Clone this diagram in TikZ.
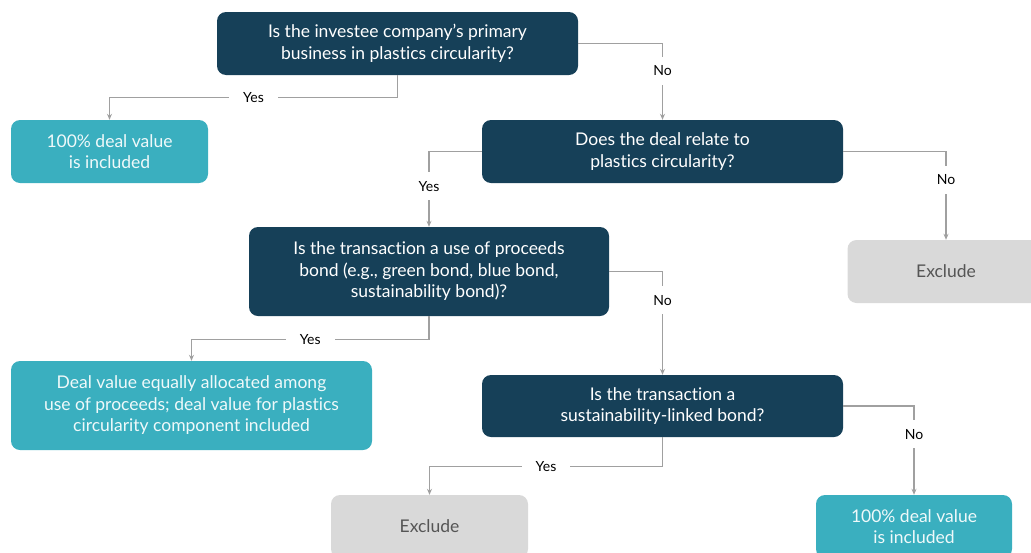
\documentclass[tikz,border=0pt]{standalone}
\usepackage{fontspec}
\setmainfont{Lato}[Ligatures={NoCommon,NoRare}]
\usetikzlibrary{arrows.meta}
\definecolor{navy}{RGB}{22,64,88}
\definecolor{teal}{RGB}{58,175,191}
\definecolor{lgrey}{RGB}{217,217,217}
\definecolor{dgrey}{RGB}{85,85,85}
\definecolor{wire}{RGB}{160,160,160}
\begin{document}
\begin{tikzpicture}[x=1pt,y=-1pt,
    box/.style={rounded corners=9pt,inner sep=0pt,align=center,
      font=\fontsize{17.5}{21.5}\selectfont},
    ask/.style={box,fill=navy,text=white,minimum width=361pt},
    take/.style={box,fill=teal,text=white!92!teal},
    drop/.style={box,fill=lgrey,text=dgrey,minimum width=197pt,minimum height=63pt},
    wire/.style={draw=wire,line width=1.1pt,-{Stealth[length=6pt,width=5pt]}},
    lbl/.style={fill=white,text=black,inner xsep=14pt,inner ysep=9pt,
      font=\fontsize{14}{16}\selectfont}]
      \useasboundingbox (0,0) rectangle (1031,552) ;
      \clip (0,0) rectangle (1031,552) ;
      % questions
      \node[ask,minimum height=63pt] (Q1) at (397.5,43.5)
        {Is the investee company's primary\\business in plastics circularity?} ;
      \node[ask,minimum height=63pt] (Q2) at (662.5,151.5)
        {Does the deal relate to\\plastics circularity?} ;
      \node[ask,minimum height=89pt,minimum width=360pt] (Q3) at (429,271.5)
        {Is the transaction a use of proceeds\\bond (e.g., green bond, blue bond,\\sustainability bond)?} ;
      \node[ask,minimum height=62pt] (Q4) at (662.5,406)
        {Is the transaction a\\sustainability-linked bond?} ;
      % outcomes
      \node[take,minimum width=197pt,minimum height=63pt] (A1) at (109.5,151.5)
        {100\% deal value\\is included} ;
      \node[take,minimum width=361pt,minimum height=89pt] (A2) at (191.5,405.5)
        {Deal value equally allocated among\\use of proceeds; deal value for plastics\\circularity component included} ;
      \node[take,minimum width=196pt,minimum height=63pt] (A3) at (914,526.5)
        {100\% deal value\\is included} ;
      \node[drop] (E1) at (946,271.5) {Exclude} ;
      \node[drop] (E2) at (429.5,526.5) {Exclude} ;
      % connectors
      \draw[wire] (Q1.south) -- ++(0,22) -| (A1.north) node[lbl,pos=0.25]{Yes} ;
      \draw[wire] (Q1.east) -| (Q2.north) node[lbl,pos=0.68]{No} ;
      \draw[wire] (Q2.west) -| (Q3.north) node[lbl,pos=0.73]{Yes} ;
      \draw[wire] (Q2.east) -| (E1.north) node[lbl,pos=0.66]{No} ;
      \draw[wire] (Q3.south) -- ++(0,23) -| (A2.north) node[lbl,pos=0.25]{Yes} ;
      \draw[wire] (Q3.east) -| (Q4.north) node[lbl,pos=0.64]{No} ;
      \draw[wire] (Q4.south) -- ++(0,29) -| (E2.north) node[lbl,pos=0.25]{Yes} ;
      \draw[wire] (Q4.east) -| (A3.north) node[lbl,pos=0.66]{No} ;
\end{tikzpicture}
\end{document}
